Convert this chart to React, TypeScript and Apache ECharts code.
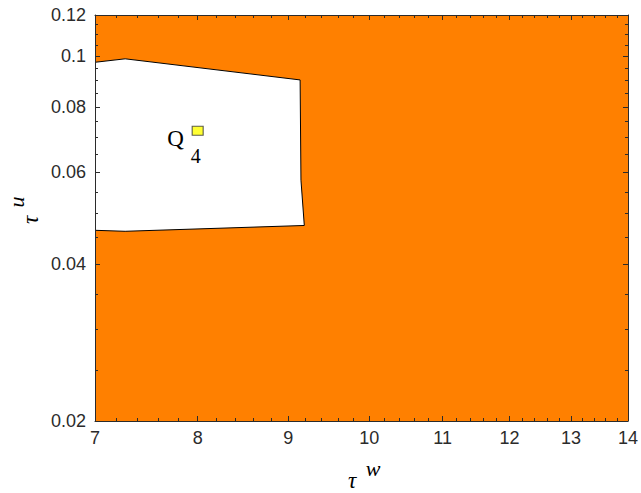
import React, { useEffect, useRef } from 'react';
import * as echarts from 'echarts';

// Axis ranges (both axes are logarithmic)
const tauWRange = [7, 14];
const tauURange = [0.02, 0.12];

// Tick positions
const tauWMajorTicks = [7, 8, 9, 10, 11, 12, 13, 14];
const tauWMinorTicks = [
  7.2, 7.4, 7.6, 7.8, 8.2, 8.4, 8.6, 8.8, 9.2, 9.4, 9.6, 9.8,
  10.2, 10.4, 10.6, 10.8, 11.2, 11.4, 11.6, 11.8, 12.2, 12.4, 12.6, 12.8,
  13.2, 13.4, 13.6, 13.8,
];
const tauUMajorTicks = [0.02, 0.04, 0.06, 0.08, 0.1, 0.12];
const tauUMinorTicks = [
  0.025, 0.03, 0.035, 0.045, 0.05, 0.055, 0.065, 0.07, 0.075,
  0.085, 0.09, 0.095, 0.105, 0.11, 0.115,
];

// Boundary of the white region (τ^w, τ^u pairs)
const regionTauW = [7, 7.28, 9.14, 9.15, 9.19, 7.28, 7];
const regionTauU = [0.0974, 0.0989, 0.0901, 0.0579, 0.0474, 0.0462, 0.0464];

// Operating point Q4
const pointTauW = [8];
const pointTauU = [0.072];
const pointName = 'Q';
const pointIndex = '4';

const AXIS_COLOR = '#2b2b2b';
const ORANGE = '#FF8000';
const LABEL_FONT = 'Liberation Sans, Arial, Helvetica, sans-serif';
const SERIF = 'Liberation Serif, Times New Roman, serif';

const fmt = (v: number) => String(Number(Number(v).toPrecision(6)));

function xAxisDef(position: 'top' | 'bottom', ticks: number[], len: number, main: boolean) {
  return {
    type: 'log',
    logBase: 10,
    min: tauWRange[0],
    max: tauWRange[1],
    position,
    z: 10,
    splitLine: { show: false },
    axisLine: { show: main, lineStyle: { color: AXIS_COLOR, width: 1 } },
    axisTick: {
      show: true,
      inside: true,
      length: len,
      customValues: ticks,
      lineStyle: { color: AXIS_COLOR, width: 1 },
    },
    axisLabel: {
      show: main && position === 'bottom',
      customValues: ticks,
      margin: 8,
      fontSize: 18,
      fontFamily: LABEL_FONT,
      color: AXIS_COLOR,
      formatter: (v: number) => fmt(v),
    },
  };
}

function yAxisDef(position: 'left' | 'right', ticks: number[], len: number, main: boolean) {
  return {
    type: 'log',
    logBase: 10,
    min: tauURange[0],
    max: tauURange[1],
    position,
    z: 10,
    splitLine: { show: false },
    axisLine: { show: main, lineStyle: { color: AXIS_COLOR, width: 1 } },
    axisTick: {
      show: true,
      inside: true,
      length: len,
      customValues: ticks,
      lineStyle: { color: AXIS_COLOR, width: 1 },
    },
    axisLabel: {
      show: main && position === 'left',
      customValues: ticks,
      margin: 9,
      fontSize: 18,
      fontFamily: LABEL_FONT,
      color: AXIS_COLOR,
      formatter: (v: number) => fmt(v),
    },
  };
}

function serifText(text: string, size: number, italic: boolean, lineHeight?: number) {
  return {
    text,
    fontSize: size,
    fontFamily: SERIF,
    fontStyle: italic ? 'italic' : 'normal',
    lineHeight: lineHeight ?? size,
    fill: '#000000',
    align: 'center',
    verticalAlign: 'middle',
  };
}

export default function App() {
  const ref = useRef<HTMLDivElement>(null);

  useEffect(() => {
    if (!ref.current) return;
    const chart = echarts.init(ref.current, null, { renderer: 'svg' });

    const option = {
      animation: false,
      backgroundColor: '#ffffff',
      grid: { left: 95, right: 11, top: 15, bottom: 72, containLabel: false },
      xAxis: [
        xAxisDef('bottom', tauWMajorTicks, 5, true),
        xAxisDef('bottom', tauWMinorTicks, 3, false),
        xAxisDef('top', tauWMajorTicks, 5, true),
        xAxisDef('top', tauWMinorTicks, 3, false),
      ],
      yAxis: [
        yAxisDef('left', tauUMajorTicks, 5, true),
        yAxisDef('left', tauUMinorTicks, 3, false),
        yAxisDef('right', tauUMajorTicks, 5, true),
        yAxisDef('right', tauUMinorTicks, 3, false),
      ],
      series: [
        {
          type: 'custom',
          name: 'region',
          xAxisIndex: 0,
          yAxisIndex: 0,
          z: 2,
          clip: true,
          silent: true,
          data: [[regionTauW[0], regionTauU[0]]],
          renderItem: (_params: any, api: any) => {
            const box = [
              [tauWRange[0], tauURange[0]],
              [tauWRange[1], tauURange[0]],
              [tauWRange[1], tauURange[1]],
              [tauWRange[0], tauURange[1]],
            ].map((p) => api.coord(p));
            const pts = regionTauW.map((w, i) => api.coord([w, regionTauU[i]]));
            return {
              type: 'group',
              children: [
                { type: 'polygon', shape: { points: box }, style: { fill: ORANGE } },
                {
                  type: 'polygon',
                  shape: { points: pts },
                  style: { fill: '#ffffff', stroke: '#000000', lineWidth: 1 },
                },
              ],
            };
          },
        },
        {
          type: 'scatter',
          name: 'Q4',
          xAxisIndex: 0,
          yAxisIndex: 0,
          z: 4,
          symbol: 'rect',
          symbolSize: [11, 9],
          itemStyle: { color: '#FFFF00', borderColor: '#333333', borderWidth: 1 },
          data: pointTauW.map((w, i) => [w, pointTauU[i]]),
        },
        {
          type: 'custom',
          name: 'Q4 label',
          xAxisIndex: 0,
          yAxisIndex: 0,
          z: 4,
          silent: true,
          data: pointTauW.map((w, i) => [w, pointTauU[i]]),
          renderItem: (_params: any, api: any) => {
            const c = api.coord([api.value(0), api.value(1)]);
            return {
              type: 'group',
              children: [
                {
                  type: 'text',
                  x: c[0] - 22,
                  y: c[1] + 8,
                  style: serifText(pointName, 23, false),
                },
                {
                  type: 'text',
                  x: c[0] - 2,
                  y: c[1] + 25,
                  style: serifText(pointIndex, 20, false),
                },
              ],
            };
          },
        },
      ],
      graphic: [
        { type: 'text', x: 352, y: 480, style: serifText('τ', 23, true, 18) },
        { type: 'text', x: 373, y: 468, style: serifText('w', 22, true) },
        { type: 'text', x: 30, y: 220, rotation: Math.PI / 2, style: serifText('τ', 23, true) },
        { type: 'text', x: 16, y: 202, rotation: Math.PI / 2, style: serifText('u', 22, true) },
      ],
    };

    chart.setOption(option as any);
    return () => {
      chart.dispose();
    };
  }, []);

  return (
    <div
      ref={ref}
      style={{ position: 'fixed', left: 0, top: 0, width: 641, height: 493, background: '#fff' }}
    />
  );
}
